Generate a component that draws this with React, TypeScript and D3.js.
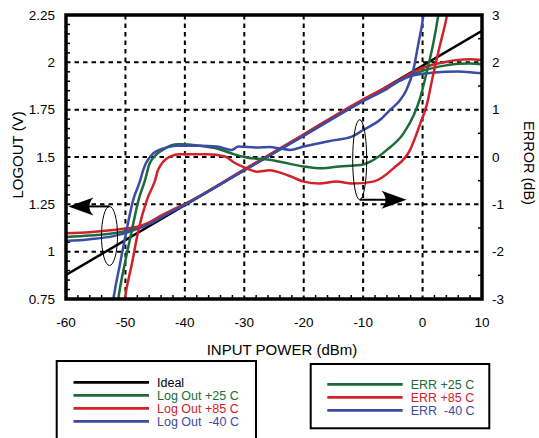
import React from "react";
import * as d3 from "d3";

// ---- data ----
const xTicks = [-60, -50, -40, -30, -20, -10, 0, 10];
const leftTicks = [0.75, 1, 1.25, 1.5, 1.75, 2, 2.25];
const rightTicks = [-3, -2, -1, 0, 1, 2, 3];

const idealPower = [-60, 10];
const idealOut = [0.877, 2.167];

const logOutPower = [-60, -56, -52, -50, -48, -46, -44, -42, -40, -30, -20, -10, -6, -4, -2, 0, 2, 4, 6, 8, 10];
const logOut25 = [1.077, 1.085, 1.097, 1.108, 1.125, 1.148, 1.183, 1.218, 1.25, 1.432, 1.615, 1.8, 1.865, 1.9, 1.932, 1.955, 1.972, 1.984, 1.992, 1.994, 1.99];
const logOut85 = [1.097, 1.103, 1.114, 1.122, 1.132, 1.155, 1.19, 1.222, 1.252, 1.435, 1.62, 1.805, 1.87, 1.905, 1.942, 1.97, 1.99, 2.003, 2.013, 2.016, 2.012];
const logOutM40 = [1.056, 1.066, 1.082, 1.098, 1.12, 1.145, 1.18, 1.215, 1.248, 1.43, 1.612, 1.795, 1.86, 1.9, 1.928, 1.94, 1.946, 1.95, 1.951, 1.948, 1.942];

const err25Power = [-51.5, -51.2, -50.1, -48.9, -47.8, -46.7, -45.9, -43.6, -41.1, -37.5, -34.6, -31.8, -29.6, -25.7, -24, -20, -17, -14, -11.5, -10, -8.8, -6, -3.2, -1.5, -0.4, 0.7, 1.8, 2.6, 3];
const err25 = [-3.3, -3, -2.25, -1.54, -0.91, -0.49, -0.13, 0.16, 0.27, 0.24, 0.18, 0.06, -0.01, -0.06, -0.1, -0.2, -0.24, -0.2, -0.18, -0.16, -0.1, 0.15, 0.5, 0.88, 1.25, 1.8, 2.4, 2.96, 3.3];

const err85Power = [-50.4, -50.1, -48.9, -47.8, -46.4, -45, -44.5, -42.5, -40.8, -36.3, -33.2, -31.8, -29.6, -27.9, -25.7, -24, -22, -20, -17.3, -14.5, -11.9, -8.3, -4.9, -2.1, -0.4, 0.7, 1.8, 2.9, 4.05, 4.5];
const err85 = [-3.3, -3, -2.25, -1.54, -0.91, -0.49, -0.27, 0.01, 0.06, 0.06, 0.01, -0.11, -0.24, -0.31, -0.28, -0.33, -0.42, -0.52, -0.56, -0.52, -0.56, -0.52, -0.24, 0.15, 0.7, 1.1, 1.75, 2.35, 2.96, 3.3];

const errM40Power = [-52.3, -52, -50.9, -49.8, -48.7, -47.5, -47, -45.3, -43.6, -41.4, -37.5, -34.6, -32.1, -31, -27.9, -25.7, -24, -22.3, -20, -15.6, -11.9, -10, -7.2, -5.5, -3.8, -2.7, -1.55, -0.7, 0.1, 0.4];
const errM40 = [-3.3, -3, -2.25, -1.54, -0.91, -0.49, -0.27, 0.08, 0.18, 0.24, 0.24, 0.22, 0.15, 0.22, 0.2, 0.21, 0.18, 0.15, 0.22, 0.34, 0.43, 0.57, 0.78, 0.99, 1.2, 1.42, 1.84, 2.4, 2.96, 3.3];

const GREEN = "#1c6b39";
const RED = "#d12229";
const BLUE = "#3a4ca6";

const logLegend = [
  { label: "Ideal", color: "#000" },
  { label: "Log Out +25 C", color: GREEN },
  { label: "Log Out +85 C", color: RED },
  { label: "Log Out  -40 C", color: BLUE },
];
const errLegend = [
  { label: "ERR +25 C", color: GREEN },
  { label: "ERR +85 C", color: RED },
  { label: "ERR  -40 C", color: BLUE },
];

const W = 539;
const H = 438;
const m = { left: 66, right: 482, top: 15, bottom: 299 };
const FONT = "'Liberation Sans', Arial, Helvetica, sans-serif";

const zip = (xs: number[], ys: number[]) => xs.map((x, i) => [x, ys[i]] as [number, number]);

export default function App() {
  const x = d3.scaleLinear().domain([-60, 10]).range([m.left, m.right]);
  const yL = d3.scaleLinear().domain([0.75, 2.25]).range([m.bottom, m.top]);
  const yR = d3.scaleLinear().domain([-3, 3]).range([m.bottom, m.top]);

  const lineL = d3
    .line<[number, number]>()
    .x((d) => x(d[0]))
    .y((d) => yL(d[1]))
    .curve(d3.curveMonotoneX);
  const lineR = d3
    .line<[number, number]>()
    .x((d) => x(d[0]))
    .y((d) => yR(d[1]))
    .curve(d3.curveMonotoneX);

  const vGrid = xTicks.filter((t) => t > -60 && t < 10);
  const hGrid = leftTicks.filter((t) => t > 0.75 && t < 2.25);
  const minorX = d3.range(-58, 10, 2).filter((t) => t % 10 !== 0);
  const minorL = d3.range(0.8, 2.25, 0.05).filter((t) => Math.abs(t * 4 - Math.round(t * 4)) > 0.01);
  const minorR = d3.range(-2.5, 3, 1);

  // annotation ellipses / arrows in data units
  const lEll = { p: -52.68, v: 1.083, rv: 0.156, rp: 1.35 };
  const rEll = { p: -10.58, e: -0.057, re: 0.845, rp: 1.18 };

  const arrowHead = (tx: number, ty: number, dir: number) =>
    `M${tx},${ty} L${tx - dir * 25},${ty - 9} Q${tx - dir * 17},${ty} ${tx - dir * 25},${ty + 9} Z`;

  const lArrowY = yL(lEll.v + lEll.rv);
  const rArrowY = yR(rEll.e - rEll.re);

  return (
    <svg width={W} height={H} style={{ position: "absolute", left: 0, top: 0 }} fontFamily={FONT}>
      <rect width={W} height={H} fill="#fff" />
      <defs>
        <clipPath id="plot">
          <rect x={m.left} y={m.top} width={m.right - m.left} height={m.bottom - m.top} />
        </clipPath>
      </defs>

      {/* grid */}
      {vGrid.map((t) => (
        <line key={"v" + t} x1={x(t)} x2={x(t)} y1={m.top} y2={m.bottom} stroke="#000" strokeWidth={2} strokeDasharray="4.5,4" />
      ))}
      {hGrid.map((t) => (
        <line key={"h" + t} x1={m.left} x2={m.right} y1={yL(t)} y2={yL(t)} stroke="#000" strokeWidth={2} strokeDasharray="4.5,4" />
      ))}

      {/* minor ticks */}
      {minorX.map((t) => (
        <line key={"mx" + t} x1={x(t)} x2={x(t)} y1={m.bottom} y2={m.bottom - 4} stroke="#000" strokeWidth={1.5} />
      ))}
      {minorL.map((t) => (
        <line key={"ml" + t} x1={m.left} x2={m.left + 4} y1={yL(t)} y2={yL(t)} stroke="#000" strokeWidth={1.5} />
      ))}
      {minorR.map((t) => (
        <line key={"mr" + t} x1={m.right} x2={m.right - 4} y1={yR(t)} y2={yR(t)} stroke="#000" strokeWidth={1.5} />
      ))}

      {/* curves */}
      <g clipPath="url(#plot)" fill="none" strokeWidth={2.5} strokeLinejoin="round">
        <path d={lineL(zip(idealPower, idealOut)) || ""} stroke="#000" />
        <path d={lineL(zip(logOutPower, logOut25)) || ""} stroke={GREEN} />
        <path d={lineL(zip(logOutPower, logOut85)) || ""} stroke={RED} />
        <path d={lineL(zip(logOutPower, logOutM40)) || ""} stroke={BLUE} />
        <path d={lineR(zip(err25Power, err25)) || ""} stroke={GREEN} />
        <path d={lineR(zip(err85Power, err85)) || ""} stroke={RED} />
        <path d={lineR(zip(errM40Power, errM40)) || ""} stroke={BLUE} />
      </g>

      {/* annotations */}
      <ellipse
        cx={x(lEll.p)}
        cy={yL(lEll.v)}
        rx={x(lEll.p + lEll.rp) - x(lEll.p)}
        ry={yL(lEll.v) - yL(lEll.v + lEll.rv)}
        fill="none"
        stroke="#000"
        strokeWidth={1}
      />
      <line x1={x(lEll.p)} x2={x(-59.6) + 10} y1={lArrowY} y2={lArrowY} stroke="#000" strokeWidth={2} />
      <path d={arrowHead(x(-59.6), lArrowY, -1)} fill="#000" />

      <ellipse
        cx={x(rEll.p)}
        cy={yR(rEll.e)}
        rx={x(rEll.p + rEll.rp) - x(rEll.p)}
        ry={yR(rEll.e) - yR(rEll.e + rEll.re)}
        fill="none"
        stroke="#000"
        strokeWidth={1}
      />
      <line x1={x(rEll.p)} x2={x(-2.7) - 10} y1={rArrowY} y2={rArrowY} stroke="#000" strokeWidth={2} />
      <path d={arrowHead(x(-2.7), rArrowY, 1)} fill="#000" />

      {/* frame */}
      <rect x={m.left} y={m.top} width={m.right - m.left} height={m.bottom - m.top} fill="none" stroke="#000" strokeWidth={3.5} />

      {/* tick labels */}
      {xTicks.map((t) => (
        <text key={"xl" + t} x={x(t)} y={327} textAnchor="middle" fontSize={13.5}>
          {t}
        </text>
      ))}
      {leftTicks.map((t) => (
        <text key={"ll" + t} x={55} y={yL(t)} dy="0.35em" textAnchor="end" fontSize={13.5}>
          {t}
        </text>
      ))}
      {rightTicks.map((t) => (
        <text key={"rl" + t} x={492} y={yR(t)} dy="0.35em" textAnchor="start" fontSize={13.5}>
          {t}
        </text>
      ))}

      {/* axis titles */}
      <text x={282} y={355} textAnchor="middle" fontSize={15}>
        INPUT POWER (dBm)
      </text>
      <text transform="translate(23,155) rotate(-90)" textAnchor="middle" fontSize={15}>
        LOGOUT (V)
      </text>
      <text transform="translate(524,163) rotate(90)" textAnchor="middle" fontSize={14.5}>
        ERROR (dB)
      </text>

      {/* legends */}
      <rect x={56.7} y={361} width={199.3} height={90} fill="none" stroke="#000" strokeWidth={2} />
      {logLegend.map((d, i) => (
        <g key={d.label}>
          <line x1={73.5} x2={149} y1={382.3 + i * 13} y2={382.3 + i * 13} stroke={d.color} strokeWidth={2.7} />
          <text x={157} y={382.3 + i * 13} dy="0.35em" fontSize={12.5} fill={d.color} style={{ whiteSpace: "pre" }}>
            {d.label}
          </text>
        </g>
      ))}
      <rect x={310.7} y={364} width={178.6} height={64.3} fill="none" stroke="#000" strokeWidth={2} />
      {errLegend.map((d, i) => (
        <g key={d.label}>
          <line x1={327.3} x2={402.7} y1={384.3 + i * 13} y2={384.3 + i * 13} stroke={d.color} strokeWidth={2.7} />
          <text x={410.7} y={384.3 + i * 13} dy="0.35em" fontSize={12.5} fill={d.color} style={{ whiteSpace: "pre" }}>
            {d.label}
          </text>
        </g>
      ))}
    </svg>
  );
}
